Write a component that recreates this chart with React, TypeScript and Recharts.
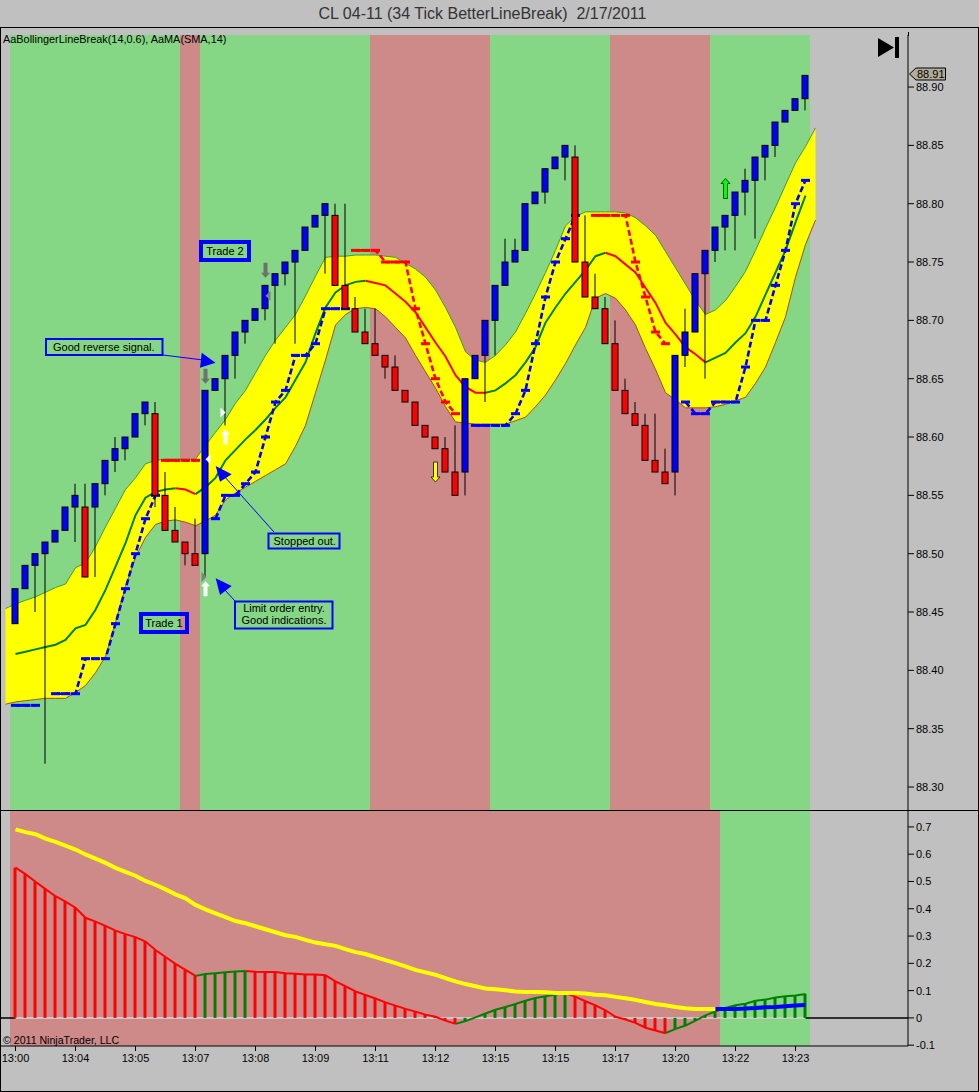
import React from "react";
import {
  Area,
  Bar,
  Cell,
  ComposedChart,
  Line,
  ReferenceArea,
  ReferenceDot,
  ReferenceLine,
  XAxis,
  YAxis,
} from "recharts";

const _ = null;

// line break bars, one per index
const opens = [88.44, 88.47, 88.49, 88.5, 88.51, 88.52, 88.54, 88.54, 88.54, 88.56, 88.58, 88.59, 88.6, 88.62, 88.62, 88.55, 88.52, 88.51, 88.5, 88.5, 88.64, 88.65, 88.67, 88.69, 88.7, 88.71, 88.73, 88.74, 88.75, 88.76, 88.78, 88.79, 88.79, 88.73, 88.71, 88.69, 88.68, 88.67, 88.66, 88.64, 88.63, 88.61, 88.6, 88.59, 88.57, 88.57, 88.65, 88.67, 88.7, 88.73, 88.75, 88.76, 88.8, 88.81, 88.83, 88.84, 88.84, 88.75, 88.72, 88.71, 88.68, 88.64, 88.62, 88.61, 88.58, 88.57, 88.57, 88.67, 88.69, 88.74, 88.76, 88.78, 88.79, 88.81, 88.82, 88.84, 88.85, 88.87, 88.88, 88.89];
const closes = [88.47, 88.49, 88.5, 88.51, 88.52, 88.54, 88.55, 88.48, 88.56, 88.58, 88.59, 88.6, 88.62, 88.63, 88.55, 88.52, 88.51, 88.5, 88.49, 88.64, 88.65, 88.67, 88.69, 88.7, 88.71, 88.73, 88.74, 88.75, 88.76, 88.78, 88.79, 88.8, 88.73, 88.71, 88.69, 88.68, 88.67, 88.66, 88.64, 88.63, 88.61, 88.6, 88.59, 88.57, 88.55, 88.65, 88.67, 88.7, 88.73, 88.75, 88.76, 88.8, 88.81, 88.83, 88.84, 88.85, 88.75, 88.72, 88.71, 88.68, 88.64, 88.62, 88.61, 88.58, 88.57, 88.56, 88.67, 88.69, 88.74, 88.76, 88.78, 88.79, 88.81, 88.82, 88.84, 88.85, 88.87, 88.88, 88.89, 88.91];
const highs = [88.47, 88.49, 88.5, 88.51, 88.52, 88.54, 88.56, 88.56, 88.56, 88.58, 88.6, 88.6, 88.62, 88.63, 88.63, 88.57, 88.54, 88.51, 88.53, 88.64, 88.65, 88.67, 88.69, 88.7, 88.71, 88.73, 88.74, 88.75, 88.76, 88.78, 88.79, 88.8, 88.8, 88.8, 88.72, 88.71, 88.71, 88.67, 88.67, 88.64, 88.63, 88.61, 88.6, 88.6, 88.61, 88.65, 88.67, 88.7, 88.73, 88.77, 88.77, 88.8, 88.81, 88.83, 88.84, 88.85, 88.85, 88.79, 88.74, 88.72, 88.7, 88.65, 88.63, 88.62, 88.62, 88.59, 88.67, 88.71, 88.74, 88.76, 88.78, 88.79, 88.81, 88.83, 88.84, 88.85, 88.87, 88.88, 88.89, 88.91];
const lows = [88.44, 88.47, 88.45, 88.32, 88.51, 88.52, 88.51, 88.48, 88.48, 88.55, 88.57, 88.58, 88.6, 88.61, 88.54, 88.52, 88.51, 88.49, 88.49, 88.48, 88.64, 88.61, 88.65, 88.68, 88.7, 88.7, 88.68, 88.73, 88.68, 88.76, 88.78, 88.74, 88.73, 88.71, 88.69, 88.68, 88.67, 88.65, 88.64, 88.63, 88.61, 88.6, 88.59, 88.57, 88.55, 88.55, 88.65, 88.63, 88.67, 88.73, 88.75, 88.76, 88.8, 88.8, 88.83, 88.82, 88.75, 88.72, 88.71, 88.68, 88.64, 88.62, 88.61, 88.58, 88.57, 88.56, 88.55, 88.66, 88.69, 88.65, 88.75, 88.76, 88.76, 88.79, 88.77, 88.82, 88.84, 88.87, 88.88, 88.88];

// bollinger band, starts one index before the first bar and ends one after the last
const bandUpper = [88.453, 88.457, 88.46, 88.463, 88.467, 88.471, 88.474, 88.488, 88.492, 88.506, 88.523, 88.539, 88.555, 88.565, 88.577, 88.58, 88.581, 88.581, 88.581, 88.581, 88.593, 88.604, 88.615, 88.629, 88.64, 88.655, 88.67, 88.683, 88.694, 88.705, 88.721, 88.738, 88.754, 88.755, 88.755, 88.756, 88.756, 88.756, 88.755, 88.754, 88.749, 88.744, 88.737, 88.726, 88.711, 88.694, 88.673, 88.666, 88.664, 88.67, 88.679, 88.69, 88.706, 88.723, 88.741, 88.76, 88.781, 88.789, 88.793, 88.793, 88.793, 88.793, 88.792, 88.788, 88.781, 88.773, 88.759, 88.745, 88.731, 88.717, 88.705, 88.709, 88.717, 88.729, 88.742, 88.76, 88.779, 88.797, 88.816, 88.835, 88.849, 88.865];
const bandLower = [88.371, 88.373, 88.374, 88.375, 88.376, 88.376, 88.376, 88.381, 88.387, 88.398, 88.412, 88.441, 88.472, 88.497, 88.514, 88.525, 88.528, 88.529, 88.527, 88.524, 88.528, 88.533, 88.546, 88.552, 88.557, 88.562, 88.567, 88.572, 88.577, 88.592, 88.61, 88.638, 88.666, 88.696, 88.705, 88.71, 88.711, 88.71, 88.703, 88.694, 88.685, 88.67, 88.656, 88.642, 88.626, 88.613, 88.612, 88.611, 88.611, 88.611, 88.611, 88.614, 88.617, 88.626, 88.636, 88.649, 88.663, 88.679, 88.694, 88.719, 88.723, 88.719, 88.709, 88.696, 88.676, 88.658, 88.638, 88.632, 88.625, 88.625, 88.625, 88.626, 88.628, 88.631, 88.634, 88.646, 88.66, 88.681, 88.703, 88.737, 88.765, 88.786];
const midLine = [88.414, 88.416, 88.418, 88.42, 88.422, 88.426, 88.436, 88.439, 88.452, 88.469, 88.489, 88.509, 88.533, 88.548, 88.553, 88.555, 88.556, 88.555, 88.551, 88.557, 88.565, 88.58, 88.589, 88.598, 88.606, 88.615, 88.625, 88.634, 88.649, 88.664, 88.689, 88.711, 88.724, 88.73, 88.733, 88.734, 88.732, 88.73, 88.723, 88.716, 88.707, 88.694, 88.681, 88.669, 88.653, 88.643, 88.638, 88.638, 88.64, 88.646, 88.653, 88.664, 88.677, 88.698, 88.711, 88.723, 88.733, 88.743, 88.755, 88.758, 88.755, 88.748, 88.741, 88.728, 88.715, 88.698, 88.688, 88.677, 88.671, 88.664, 88.668, 88.672, 88.681, 88.689, 88.703, 88.722, 88.741, 88.76, 88.784, 88.807];
const midFallingSpans = [[16, 18], [35, 47], [59, 69]];

// trailing stop
const stopLong = [88.37, 88.37, 88.37, _, 88.38, 88.38, 88.38, 88.41, 88.41, 88.41, 88.44, 88.47, 88.5, 88.53, 88.55, _, _, _, _, _, 88.53, 88.55, 88.55, 88.56, 88.57, 88.6, 88.63, 88.64, 88.67, 88.67, 88.68, 88.71, 88.71, 88.71, _, _, _, _, _, _, _, _, _, _, _, _, 88.61, 88.61, 88.61, 88.61, 88.62, 88.64, 88.68, 88.72, 88.75, 88.77, 88.79, _, _, _, _, _, _, _, _, _, _, 88.63, 88.62, 88.62, 88.63, 88.63, 88.63, 88.66, 88.7, 88.7, 88.73, 88.76, 88.8, 88.82];
const stopShort = [_, _, _, _, _, _, _, _, _, _, _, _, _, _, _, 88.58, 88.58, 88.58, 88.58, _, _, _, _, _, _, _, _, _, _, _, _, _, _, _, 88.76, 88.76, 88.76, 88.75, 88.75, 88.75, 88.71, 88.68, 88.65, 88.63, 88.62, _, _, _, _, _, _, _, _, _, _, _, _, _, 88.79, 88.79, 88.79, 88.79, 88.75, 88.72, 88.69, 88.68, _, _, _, _, _, _, _, _, _, _, _, _, _, _];

// background regimes, index edges
const priceRegimes = [[-0.55, 16.45, "up"], [16.45, 18.45, "down"], [18.45, 35.45, "up"], [35.45, 47.45, "down"], [47.45, 59.45, "up"], [59.45, 69.45, "down"], [69.45, 79.45, "up"]];
const oscRegimes = [[-0.55, 70.45, "down"], [70.45, 79.45, "up"]];

// lower panel
const histogram = [0.551, 0.527, 0.499, 0.472, 0.446, 0.426, 0.404, 0.367, 0.353, 0.337, 0.32, 0.307, 0.296, 0.28, 0.249, 0.223, 0.198, 0.176, 0.154, 0.161, 0.164, 0.167, 0.17, 0.172, 0.169, 0.168, 0.168, 0.164, 0.162, 0.159, 0.159, 0.156, 0.134, 0.116, 0.097, 0.084, 0.071, 0.057, 0.045, 0.033, 0.023, 0.012, 0.004, -0.01, -0.022, -0.012, 0.002, 0.016, 0.03, 0.04, 0.051, 0.063, 0.073, 0.079, 0.086, 0.091, 0.077, 0.061, 0.046, 0.028, 0.004, -0.006, -0.018, -0.036, -0.046, -0.056, -0.04, -0.028, -0.01, 0.009, 0.024, 0.036, 0.046, 0.052, 0.063, 0.067, 0.075, 0.079, 0.082, 0.088];
const histRisingSpans = [[18, 23], [44, 55], [65, 79]];
const signalYellow = [0.691, 0.681, 0.673, 0.657, 0.645, 0.631, 0.617, 0.599, 0.584, 0.568, 0.55, 0.535, 0.521, 0.502, 0.488, 0.471, 0.453, 0.438, 0.414, 0.398, 0.383, 0.369, 0.355, 0.347, 0.336, 0.325, 0.314, 0.303, 0.297, 0.286, 0.276, 0.27, 0.264, 0.252, 0.241, 0.234, 0.223, 0.212, 0.201, 0.189, 0.176, 0.167, 0.158, 0.146, 0.134, 0.124, 0.116, 0.108, 0.105, 0.101, 0.097, 0.095, 0.095, 0.094, 0.091, 0.091, 0.091, 0.089, 0.085, 0.083, 0.077, 0.072, 0.066, 0.058, 0.051, 0.046, 0.04, 0.035, 0.033, 0.033, 0.033];
const signalBlue = [0.033, 0.033, 0.033, 0.034, 0.036, 0.039, 0.04, 0.043, 0.045, 0.047];
const signalBlueStart = 70;

// axes
const priceTicks = [88.3, 88.35, 88.4, 88.45, 88.5, 88.55, 88.6, 88.65, 88.7, 88.75, 88.8, 88.85, 88.9];
const oscTicks = [-0.1, 0, 0.1, 0.2, 0.3, 0.4, 0.5, 0.6, 0.7];
const timeTickIndex = [0, 6, 12, 18, 24, 30, 36, 42, 48, 54, 60, 66, 72, 78];
const timeLabels = ["13:00", "13:04", "13:05", "13:07", "13:08", "13:09", "13:11", "13:12", "13:15", "13:15", "13:17", "13:20", "13:22", "13:23"];

// small arrows on the price panel
const markIndex = [19, 18.8, 21, 20.7, 19.3, 19, 25, 25.3, 42, 71];
const markPrice = [88.47, 88.48, 88.6, 88.621, 88.581, 88.652, 88.743, 88.721, 88.57, 88.813];
const markKind = ["whiteUp", "greyRight", "whiteUp", "whiteRight", "whiteLeft", "greyDown", "greyDown", "greyLeft", "yellowDown", "greenUp"];

const GREEN_BG = "#85D685";
const PINK_BG = "#CE8989";
const GREY = "#C0C0C0";
const FONT = "'Liberation Sans', Arial, sans-serif";

const inSpans = (i: number, spans: number[][]) => spans.some(([a, b]) => i >= a && i <= b);

const priceRows = bandUpper.map((upper, k) => {
  const i = k - 1;
  const row: any = { i, upper, lower: bandLower[k], band: [bandLower[k], upper] };
  if (i >= 0 && i < opens.length) {
    const falling = inSpans(i, midFallingSpans);
    const rising = !falling || midFallingSpans.some(([a, b]) => i === a || i === b);
    row.midUp = rising ? midLine[i] : null;
    row.midDown = falling ? midLine[i] : null;
    row.stopLong = stopLong[i];
    row.stopShort = stopShort[i];
    row.range = [lows[i], highs[i]];
    row.open = opens[i];
    row.close = closes[i];
    row.high = highs[i];
    row.low = lows[i];
  }
  return row;
});

const oscRows = histogram.map((hist, i) => {
  const rising = inSpans(i, histRisingSpans);
  const edge = histRisingSpans.some(([a, b]) => i === a || i === b);
  return {
    i,
    hist,
    zero: 0,
    barRising: rising && !histRisingSpans.some(([a]) => i === a),
    histUp: rising ? hist : null,
    histDown: !rising || edge ? hist : null,
    yellow: i < signalYellow.length ? signalYellow[i] : null,
    blue: i >= signalBlueStart ? signalBlue[i - signalBlueStart] : null,
  };
});

const Candle = (props: any) => {
  const { x, y, width, height, payload } = props;
  if (!payload || payload.open == null) return <g />;
  const { open, close, high, low } = payload;
  const perUnit = height / (high - low);
  const top = y + (high - Math.max(open, close)) * perUnit;
  const bodyH = Math.abs(open - close) * perUnit;
  const cx = x + width / 2;
  return (
    <g>
      <line x1={cx} x2={cx} y1={y} y2={y + height} stroke="#000" strokeWidth={1} />
      <rect x={cx - 3} y={top} width={6} height={bodyH} fill={close > open ? "#0000FF" : "#FF0000"} stroke="#000" strokeWidth={1} />
    </g>
  );
};

const StopDot = (color: string) => (props: any) => {
  const { cx, cy, index } = props;
  if (cx == null || cy == null || !Number.isFinite(cy)) return <g key={index} />;
  return <rect key={index} x={cx - 4.5} y={cy - 1.5} width={9} height={3} fill={color} />;
};

const arrowUp = (cx: number, cy: number, fill: string, stroke: string, h = 9) => (
  <polygon
    points={`${cx},${cy - h} ${cx + 4.5},${cy - h + 5} ${cx + 2},${cy - h + 5} ${cx + 2},${cy + h} ${cx - 2},${cy + h} ${cx - 2},${cy - h + 5} ${cx - 4.5},${cy - h + 5}`}
    fill={fill}
    stroke={stroke}
    strokeWidth={stroke === "none" ? 0 : 1}
  />
);

const arrowDown = (cx: number, cy: number, fill: string, stroke: string, h = 9) => (
  <polygon
    points={`${cx},${cy + h} ${cx + 4.5},${cy + h - 5} ${cx + 2},${cy + h - 5} ${cx + 2},${cy - h} ${cx - 2},${cy - h} ${cx - 2},${cy + h - 5} ${cx - 4.5},${cy + h - 5}`}
    fill={fill}
    stroke={stroke}
    strokeWidth={stroke === "none" ? 0 : 1}
  />
);

const Mark = (kind: string) => (props: any) => {
  const { cx, cy } = props;
  switch (kind) {
    case "whiteUp":
      return arrowUp(cx, cy, "#FFFFFF", "none", 7.5);
    case "greenUp":
      return arrowUp(cx, cy, "#00FF00", "#0A5A0A", 10);
    case "yellowDown":
      return arrowDown(cx, cy, "#FFFF00", "#333333", 10);
    case "greyDown":
      return arrowDown(cx, cy, "#707070", "none", 7.5);
    case "greyRight":
      return <polygon points={`${cx - 2},${cy - 5} ${cx + 3},${cy} ${cx - 2},${cy + 5}`} fill="#808080" />;
    case "whiteRight":
      return <polygon points={`${cx - 2},${cy - 5} ${cx + 3},${cy} ${cx - 2},${cy + 5}`} fill="#FFFFFF" />;
    case "whiteLeft":
      return <polygon points={`${cx + 2},${cy - 5} ${cx - 3},${cy} ${cx + 2},${cy + 5}`} fill="#FFFFFF" />;
    default:
      return <polygon points={`${cx + 2},${cy - 5} ${cx - 3},${cy} ${cx + 2},${cy + 5}`} fill="#808080" />;
  }
};

const tickStyle = { fontSize: 11, fill: "#000", fontFamily: FONT };

const Overlay = () => (
  <svg width={979} height={1092} style={{ position: "absolute", left: 0, top: 0, pointerEvents: "none" }}>
    <g fontFamily={FONT} fontSize={11} fill="#000">
      {/* frame */}
      <rect x={0.5} y={27.5} width={978} height={1064} fill="none" stroke="#000" strokeWidth={1} />
      <line x1={908.5} x2={908.5} y1={32} y2={36} stroke="#000" />
      <line x1={0} x2={979} y1={810.5} y2={810.5} stroke="#000" />
      <text x={482.5} y={19} fontSize={16} fill="#333" textAnchor="middle" xmlSpace="preserve">
        CL 04-11 (34 Tick BetterLineBreak)  2/17/2011
      </text>
      <text x={3} y={43} fontSize={10.9}>AaBollingerLineBreak(14,0.6), AaMA(SMA,14)</text>
      <text x={3} y={1044} fontSize={10.6}>© 2011 NinjaTrader, LLC</text>
      {/* last bar button */}
      <polygon points="878,38 894,47.5 878,57" fill="#000" />
      <rect x={895} y={37} width={4} height={21} fill="#000" />
      {/* last price flag */}
      <polygon points="909.5,74 916,68 945.5,68 945.5,80 916,80" fill="#B0AC98" stroke="#000" />
      <text x={917} y={78}>88.91</text>
      {/* callouts */}
      <line x1={163} y1={355} x2={203} y2={360} stroke="#0000FF" />
      <polygon points="201.7,352.7 215.5,362.7 200,367.7" fill="#0000FF" />
      <rect x={46} y={339} width={116.5} height={16} fill="none" stroke="#0000FF" strokeWidth={2} />
      <text x={53} y={351}>Good reverse signal.</text>
      <line x1={274} y1={532} x2={224} y2={476} stroke="#0000FF" />
      <polygon points="215.7,466 231.7,474.3 220,481.7" fill="#0000FF" />
      <rect x={268.5} y={533.5} width={71} height={15} fill="none" stroke="#0000FF" strokeWidth={2} />
      <text x={273.5} y={545}>Stopped out.</text>
      <line x1={235} y1={601} x2={224} y2={589} stroke="#0000FF" />
      <polygon points="215.7,578.3 231.7,586 220,595" fill="#0000FF" />
      <rect x={235} y={601.5} width={97.5} height={27} fill="none" stroke="#0000FF" strokeWidth={2} />
      <text x={284} y={612} textAnchor="middle">Limit order entry.</text>
      <text x={284} y={624} textAnchor="middle">Good indications.</text>
      <rect x={141} y={614} width={46} height={18} fill="none" stroke="#0000FF" strokeWidth={4} />
      <text x={164} y={627} textAnchor="middle">Trade 1</text>
      <rect x={201} y={242} width={48} height={18} fill="none" stroke="#0000FF" strokeWidth={4} />
      <text x={225} y={255} textAnchor="middle">Trade 2</text>
    </g>
  </svg>
);

export default function App() {
  return (
    <div style={{ position: "absolute", left: 0, top: 0, width: 979, height: 1092, background: GREY, overflow: "hidden" }}>
      <div style={{ position: "absolute", left: 0, top: 35 }}>
        <ComposedChart width={978} height={775} data={priceRows} margin={{ top: 0, right: 0, bottom: 0, left: 0 }}>
          <XAxis dataKey="i" type="number" domain={[-1.55, 89.25]} hide allowDataOverflow />
          <YAxis
            orientation="right"
            width={70}
            domain={[88.2803, 88.9446]}
            ticks={priceTicks}
            allowDataOverflow
            tick={tickStyle}
            tickSize={6}
            tickMargin={2}
            tickFormatter={(v: number) => v.toFixed(2)}
            stroke="#000"
            interval={0}
          />
          {priceRegimes.map(([from, to, kind]) => (
            <ReferenceArea key={String(from)} x1={from as number} x2={to as number} fill={kind === "up" ? GREEN_BG : PINK_BG} fillOpacity={1} stroke="none" />
          ))}
          <Area dataKey="band" stroke="none" fill="#FFFF00" fillOpacity={1} dot={false} activeDot={false} isAnimationActive={false} />
          <Line dataKey="upper" stroke="#3F9A3F" strokeWidth={1} dot={false} activeDot={false} isAnimationActive={false} />
          <Line dataKey="lower" stroke="#A0521E" strokeWidth={1} dot={false} activeDot={false} isAnimationActive={false} />
          <Line dataKey="midUp" stroke="#008000" strokeWidth={2} dot={false} activeDot={false} isAnimationActive={false} />
          <Line dataKey="midDown" stroke="#FF0000" strokeWidth={2} dot={false} activeDot={false} isAnimationActive={false} />
          <Line dataKey="stopLong" stroke="#0000FF" strokeWidth={2.6} strokeDasharray="6 3" dot={StopDot("#0000FF")} activeDot={false} isAnimationActive={false} />
          <Line dataKey="stopShort" stroke="#FF0000" strokeWidth={2.6} strokeDasharray="6 3" dot={StopDot("#FF0000")} activeDot={false} isAnimationActive={false} />
          <Bar dataKey="range" barSize={7} shape={Candle} isAnimationActive={false} zIndex={600} />
          {markKind.map((kind, k) => (
            <ReferenceDot key={k} x={markIndex[k]} y={markPrice[k]} shape={Mark(kind)} ifOverflow="visible" zIndex={700} />
          ))}
        </ComposedChart>
      </div>
      <div style={{ position: "absolute", left: 0, top: 810 }}>
        <ComposedChart width={978} height={281} data={oscRows} margin={{ top: 0, right: 0, bottom: 0, left: 0 }}>
          <XAxis
            dataKey="i"
            type="number"
            domain={[-1.55, 89.25]}
            ticks={timeTickIndex}
            interval={0}
            allowDataOverflow
            height={45}
            tick={tickStyle}
            tickSize={5}
            tickMargin={3}
            tickFormatter={(v: number) => timeLabels[timeTickIndex.indexOf(v)]}
            stroke="#000"
          />
          <YAxis
            orientation="right"
            width={70}
            domain={[-0.103, 0.762]}
            ticks={oscTicks}
            allowDataOverflow
            tick={tickStyle}
            tickSize={6}
            tickMargin={2}
            interval={0}
            stroke="#000"
          />
          {oscRegimes.map(([from, to, kind]) => (
            <ReferenceArea key={String(from)} x1={from as number} x2={to as number} fill={kind === "up" ? GREEN_BG : PINK_BG} fillOpacity={1} stroke="none" />
          ))}
          <ReferenceLine y={0} stroke="#000" strokeWidth={1.5} zIndex={150} />
          <Line dataKey="zero" stroke="#FFF" strokeWidth={1.5} dot={false} activeDot={false} isAnimationActive={false} zIndex={160} />
          <Bar dataKey="hist" barSize={3} isAnimationActive={false} zIndex={300}>
            {oscRows.map((row) => (
              <Cell key={row.i} fill={row.barRising ? "#008000" : "#FF0000"} />
            ))}
          </Bar>
          <Line dataKey="histDown" stroke="#FF0000" strokeWidth={2} dot={false} activeDot={false} isAnimationActive={false} zIndex={400} />
          <Line dataKey="histUp" stroke="#008000" strokeWidth={2} dot={false} activeDot={false} isAnimationActive={false} zIndex={400} />
          <Line dataKey="yellow" stroke="#FFFF00" strokeWidth={4} dot={false} activeDot={false} isAnimationActive={false} zIndex={410} />
          <Line dataKey="blue" stroke="#0000FF" strokeWidth={4} dot={false} activeDot={false} isAnimationActive={false} zIndex={410} />
        </ComposedChart>
      </div>
      <Overlay />
    </div>
  );
}
